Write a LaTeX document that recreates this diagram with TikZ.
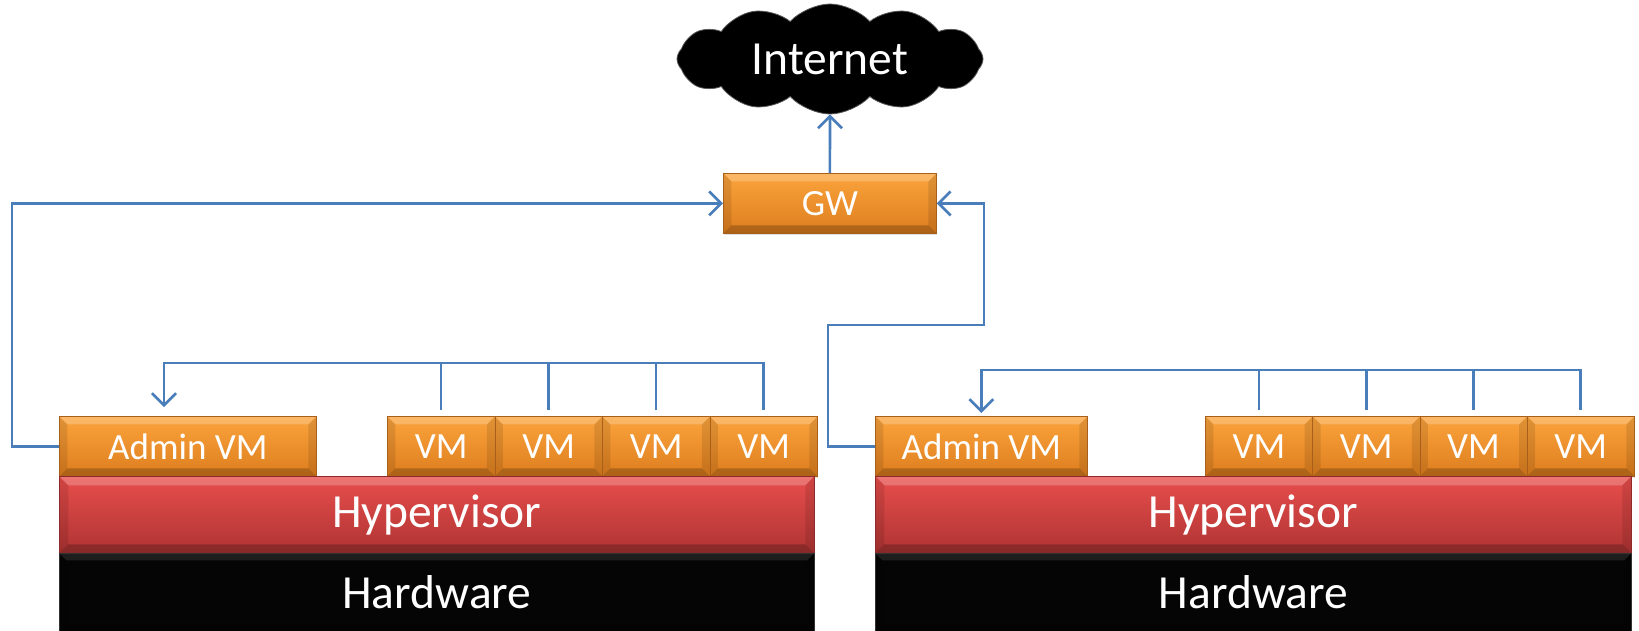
\documentclass[tikz,border=0pt]{standalone}
\usepackage{fontspec}
\setmainfont{Carlito}
\usetikzlibrary{shapes.symbols,arrows.meta,shadows,calc}

\definecolor{linkblue}{HTML}{4A7EBB}
\definecolor{orangetop}{HTML}{FBA43C}
\definecolor{orangebot}{HTML}{DD7D1E}
\definecolor{orangeedge}{HTML}{A85F1A}
\definecolor{redtop}{HTML}{E84E4C}
\definecolor{redbot}{HTML}{AE3433}
\definecolor{rededge}{HTML}{8E2A2A}

\def\bevellight{.22}
\tikzset{
  bevel light/.code={\def\bevellight{#1}},
  % raised bevel drawn inside a box
  bevel/.style={path picture={
    \coordinate (pbnw) at (path picture bounding box.north west);
    \coordinate (pbne) at (path picture bounding box.north east);
    \coordinate (pbsw) at (path picture bounding box.south west);
    \coordinate (pbse) at (path picture bounding box.south east);
    \fill[white,opacity=\bevellight] (pbnw) -- (pbne) -- ([shift={(-#1,-#1)}]pbne) -- ([shift={(#1,-#1)}]pbnw) -- cycle;
    \fill[black,opacity=.22] (pbsw) -- (pbse) -- ([shift={(-#1,#1)}]pbse) -- ([shift={(#1,#1)}]pbsw) -- cycle;
    \fill[black,opacity=.10] (pbnw) -- (pbsw) -- ([shift={(#1,#1)}]pbsw) -- ([shift={(#1,-#1)}]pbnw) -- cycle;
    \fill[black,opacity=.10] (pbne) -- (pbse) -- ([shift={(-#1,#1)}]pbse) -- ([shift={(-#1,-#1)}]pbne) -- cycle;
  }},
  box/.style={anchor=north west, inner sep=0pt, text=white,
    drop shadow={opacity=.25, shadow xshift=1pt, shadow yshift=-2pt}},
  vmbox/.style={box, top color=orangetop, bottom color=orangebot,
    draw=orangeedge, line width=.8pt, minimum height=60pt, bevel=8pt,
    font=\fontsize{37}{42}\selectfont},
  hvbox/.style={box, top color=redtop, bottom color=redbot,
    draw=rededge, line width=.6pt, minimum width=755pt, minimum height=77pt,
    bevel=9pt, font=\fontsize{47.5}{52}\selectfont},
  hwbox/.style={box, fill=black!98, draw=black!80, line width=.6pt,
    minimum width=755pt, minimum height=78pt, bevel light=.1, bevel=7pt,
    font=\fontsize{47.5}{52}\selectfont},
  link/.style={draw=linkblue, line width=2.6pt, line join=miter},
  tip/.style={-{Straight Barb[length=12pt,width=24pt]}},
}

\begin{document}
\begin{tikzpicture}[x=1pt,y=-1pt]
\useasboundingbox (0,0) rectangle (1639,630);

% Internet and gateway
\node[cloud, cloud puffs=12, cloud puff arc=95, aspect=2.8,
      fill=black, draw=black!65, line width=.8pt, inner sep=0pt,
      minimum width=306pt, minimum height=110pt,
      text=white, font=\fontsize{47.5}{52}\selectfont] (net) at (830,59) {Internet};
\node[vmbox, minimum width=213pt] (gw) at (723,173) {GW};

% first host
\node[vmbox, minimum width=257pt] (la) at (59,416) {Admin VM};
\node[vmbox, minimum width=107.5pt] (l1) at (387,416) {VM};
\node[vmbox, minimum width=107.5pt] (l2) at (494.5,416) {VM};
\node[vmbox, minimum width=107.5pt] (l3) at (602,416) {VM};
\node[vmbox, minimum width=107.5pt] (l4) at (709.5,416) {VM};
\node[hvbox] (hv1) at (59,476) {Hypervisor};
\node[hwbox] (hw1) at (59,553) {Hardware};

% second host
\node[vmbox, minimum width=212pt] (ra) at (875,416) {Admin VM};
\node[vmbox, minimum width=107.25pt] (r1) at (1205,416) {VM};
\node[vmbox, minimum width=107.25pt] (r2) at (1312.25,416) {VM};
\node[vmbox, minimum width=107.25pt] (r3) at (1419.5,416) {VM};
\node[vmbox, minimum width=107.25pt] (r4) at (1526.75,416) {VM};
\node[hvbox, minimum width=756pt] (hv2) at (875,476) {Hypervisor};
\node[hwbox, minimum width=756pt] (hw2) at (875,553) {Hardware};

% gateway uplink
\draw[link,tip] (gw.north) -- (net.south);

% admin VMs to gateway
\draw[link,tip] (la.west) -- ++(-47,0) |- (gw.west);
\coordinate (rjog) at (984,325);
\draw[link,tip] (ra.west) -- ++(-47,0) |- (rjog) |- (gw.east);

% VM buses towards the admin VMs
\coordinate (lbus) at (164,363);
\draw[link,tip,shorten >=9pt] ([yshift=6pt]l4.north) |- (lbus) -- (lbus |- la.north);
\foreach \v in {l1,l2,l3}
  \draw[link] ([yshift=6pt]\v.north) -- (\v.north |- lbus);

\coordinate (rbus) at (ra.north |- 0,370);
\draw[link,tip,shorten >=3pt] ([yshift=6pt]r4.north) |- (rbus) -- (ra.north);
\foreach \v in {r1,r2,r3}
  \draw[link] ([yshift=6pt]\v.north) -- (\v.north |- rbus);
\end{tikzpicture}
\end{document}
